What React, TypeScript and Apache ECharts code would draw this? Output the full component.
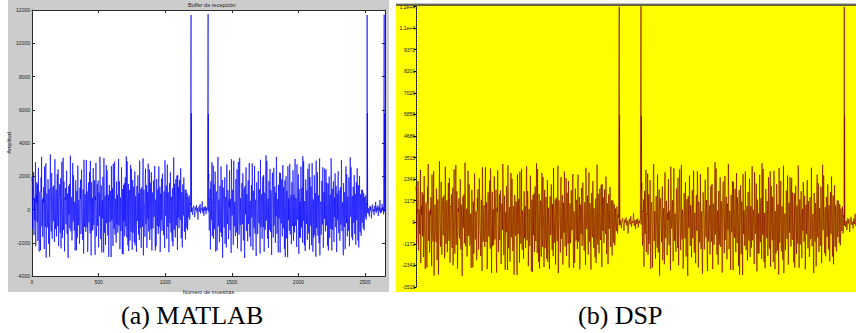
import React, { useEffect, useRef } from 'react';
import * as echarts from 'echarts';

// ---------- data (sample index / amplitude) ----------
// Each noise burst is given as two interleaved sample lists (A and B), 4 samples apart each.
const SAMPLE_STEP = 4;

const noise1AStart = 0;
const noise1A = [
  1720, -1180, 640, 2240, -1530, -420, 1390, -2210, 870, 1640, -760, -1890, 2510, 310, -1270, 1080, -2460, 1930, 3160, -980,
  -1640, 720, 1350, -2380, 590, -1040, 2780, -1470, 960, -530, 1820, -2060, 1240, -2840, 1570, 480, -1320, 2190, -1750, 830,
  -710, 1460, -1960, 3020, -1180, 690, -1620, 1150, -390, 2410, -2190, 880, 1520, -1390, 1880, -640, 2870, -1710, 470, -1230,
  1690, -2520, 740, 1290, -880, 2330, -1480, 260, -2910, 1410, 970, -1150, 3240, -1310, 610, -1860, 1530, -730, 2060, -1270,
  380, -2470, 1760, -560, 1120, -1690, 2640, -940, 540, -2060, 1310, 1790, -1480, 2380, -320, -1830, 1210, -2650, 1880, -690,
  920, -1340, 2980, -1070, 460, -1940, 1620, -780, 2260, -1430, 710, -2760, 1650, 350, -1220, 2490, -930, 1140, -1870, 790,
  2810, -1610, 520, -970, 1730, -2270, 1010, -410, 2090, -1780, 1440, -2580, 560, 1960, -1090, 3090, -1410, 640, -2140, 1360,
  -820, 2350, -1560, 890, -2850, 1480, -510, 1120, -1820, 2610, -640, 1270, -2190, 820, -1160, 2880, -1500, 470, -1990, 1680,
  630, -1390, 2210, -980, 1690, -2380, 710, -1290, 2530, -760, 1230, -2690, 1480, 400, -1610, 1940, -1020, 3200, -1680, 910,
  -2160, 1530, -590, 1170, -1870, 2680, -1330, 520, -2430, 1760, -850, 1370, -1980, 2290, -1180, 760, -2540, 1410, -450, 2010,
  -1500, 960, 2940, -1110, 560, -2300, 1330, -670, 1890, -2760, 1190, 320, -1640, 2450, -900, 1470, -2090, 840, 2760, -1320,
  690, -1830, 1610, -530, 2240, -2460, 1020, -1130, 1740, -440, 2380, -1700, 590, -2210, 1830, -990, 1220, -1460, 2590, -780,
  1370, -2040, 480, 1860, -1280, 2150, -610, -1540, 1090, -2320, 1960, -370, 1450, -1760, 2700, -1050, 650, -2570, 1590, -820,
  2230, -1390, 760, -1910, 1280, -480, 3130, -1210, 540, -1680, 1820, -960, 2040, -2430, 890, 1350, -1120, 1780, -640, 2480,
  -1730, 1040, -2280, 1510, -360, 1920, -1340, 690, -1800, 1180, -560, 980, -1250, 740, -420, 850, -610, 390,
];
const noise1BStart = 2;
const noise1B = [
  1980, -260, 580, -1410, 700, -640, 2850, -190, 420, -760, 1510, -790, 280, -2530, 940, 270, -350, 1050, -1010, 610,
  -970, 420, -520, 2590, -640, 830, -2900, 310, 390, -1080, 940, -570, 760, -1280, 3310, -870, 160, -780, 520, 1350,
  -240, 640, -1610, 620, -350, 1190, -520, 2130, -1010, 470, -600, 830, -720, 420, -2340, 780, 260, -510, 3110, -330,
  400, -1050, 580, -570, 1170, -860, 960, -2680, 420, -290, 1530, -290, 670, -910, 740, -820, 2800, -640, 520, -1230,
  470, -410, 930, -2450, 880, -90, 2620, -450, 590, -1790, 630, 310, -400, 1310, -760, 210, -1150, 2990, -1050, 700,
  -750, 290, -470, 1080, -2540, 1010, -220, 760, -660, 2920, -570, 450, -1300, 700, -900, 440, -340, 1760, -2730, 560,
  340, -680, 1510, -960, 380, -1010, 800, 3170, -460, 620, -830, 480, -540, 1230, -2590, 1070, -830, 820, -620, 2670,
  -130, 490, -1370, 750, -370, 1000, -740, 920, -2870, 360, 660, -270, 2750, -500, 430, -1080, 640, -740, 1360, -880,
  880, -380, 3040, -900, 570, -1260, 520, -620, 1110, -2670, 1090, 290, -700, 1580, -1080, 300, -990, 730, 2890, -420,
  510, -2500, 810, -450, 1150, -820, 2450, -240, 800, -1410, 960, -680, 380, -2150, 790, -1020, 600, -690, 2060, -540,
  980, -1840, 490, -330, 1240, -580, 850, -1030, 3070, -190, 470, -520, 1720, -810, 540, -2300, 1050, -560, 880, -320,
  2400, -960, 660, -1180, 570, -490, 980, -710, 900, -160, 2620, -2470, 240, -380, 690, -950, 720, 1180, -1060, 430,
  -2560, 950, -640, 1290, -420, 580, -880, 350, -910, 2960, -300, 410, -1060, 590, -730, 1040, -1390, 870, -500, 2120,
  -610, 760, -1290, 930, -2210, 1120, -430, 1540, -1060, 640, -850, 370, -790, 2060, -470, 920, -1120, 640, -580, 1280,
  -860, 450, -920, 1010, -330, 560, -580, 1190, -740, 1040, -1120, 870, -630, 720, -480, 560, -330, 270,
];

const quiet1Start = 1198;
const quiet1 = [
  -160, 110, -320, 70, 230, -80, -460, 140, -30, 260, -170, 80, -610, 50, 190, -120, 330, -240, 60, -40,
  490, -200, 120, -370, 150, -90, 210, -280, 100, -50, 240,
];

const noise2AStart = 1327;
const noise2A = [
  2150, -1260, 580, -2410, 1700, -640, 2850, -1190, 420, -1760, 1510, -790, 2280, -2530, 940, 270, -1350, 3050, -1010, 610,
  -1970, 1420, -520, 2590, -1640, 830, -2900, 1310, 390, -1080, 1940, -1570, 760, -2280, 2710, -870, 1160, -1780, 520, 2350,
  -1240, 640, -2610, 1620, -350, 1190, -2120, 2930, -1010, 470, -1600, 1830, -720, 2420, -2340, 780, 1260, -1510, 3110, -930,
  400, -2050, 1580, -570, 2170, -1860, 960, -2680, 1420, -290, 2530, -1290, 670, -1910, 1740, -820, 2800, -1640, 520, -2230,
  1470, -410, 1930, -2450, 880, -1090, 2620, -1450, 590, -2790, 1630, 310, -1400, 2310, -760, 1210, -2150, 2990, -1050, 700,
  -1750, 1290, -470, 2080, -2540, 1010, -1220, 1760, -660, 2920, -1570, 450, -2300, 1700, -900, 2440, -1340, 760, -2730, 1560,
  340, -1680, 2510, -960, 1380, -2010, 800, 3170, -1460, 620, -1830, 1480, -540, 2230, -2590, 1070, -830, 1820, -1620, 2670,
  -1130, 490, -2370, 1750, -370, 2000, -1740, 920, -2870, 1360, 660, -1270, 2750, -1500, 430, -2080, 1640, -740, 2360, -1880,
  880, -1380, 3040, -900, 570, -2260, 1520, -620, 2110, -2670, 1090, 290, -1700, 2580, -1080, 1300, -1990, 730, 2890, -1420,
  510, -2500, 1810, -450, 1150, -1820, 2450, -1240, 800, -2410, 1960, -680, 1380, -2150, 2790, -1020, 600, -1690, 2060, -1540,
  980, -2840, 1490, -330, 2240, -1580, 850, -2030, 3070, -1190, 470, -1520, 1720, -810, 2540, -2300, 1050, -560, 1880, -1320,
  2400, -960, 660, -2180, 1570, -490, 1980, -1710, 900, -1160, 2620, -2470, 1240, -380, 1690, -1950, 720, 2180, -1060, 1430,
  -2560, 950, -640, 2290, -1420, 580, -1880, 1350, -910, 2960, -1300, 410, -2060, 1590, -730, 1040, -2390, 1870, -500, 2120,
  -1610, 760, -1290, 1930, -2210, 1120, -430, 2540, -1060, 640, -1850, 1370, -790, 2060, -1470, 920, -2120, 1640, -580, 1280,
  -1860, 1450, -920, 2010, -1330, 560, -1580, 1190, -740, 1040, -1120, 870, -630, 720, -480, 560, -330, 270,
];
const noise2BStart = 1325;
const noise2B = [
  1720, -380, 640, 1240, -930, -220, 890, -1610, 470, 2640, -560, -1190, 310, 810, -270, 1080, -2460, 590, 3160, -480,
  -940, 320, 150, -1380, 590, -640, 1780, -470, 960, -230, 820, -2060, 240, -760, 1570, 480, -320, 690, -1150, 130,
  -710, 460, -960, 3020, -180, 690, -620, 1150, -390, 410, -1190, 880, 520, -1390, 280, -640, 2870, -710, 470, -230,
  690, -2520, 340, 1290, -880, 330, -480, 1260, -2910, 410, 970, -150, 920, -310, 610, -860, 1530, -730, 260, -1270,
  380, -470, 2760, -560, 1120, -690, 240, -940, 540, -1960, 310, 790, -1480, 380, -120, -830, 1210, -2650, 880, -290,
  920, -340, 1980, -1070, 460, -540, 620, -780, 3260, -430, 710, -1760, 650, 150, -1220, 490, -930, 1140, -370, 790,
  2210, -610, 520, -970, 730, -270, 1010, -410, 1690, -780, 440, -2580, 560, 960, -90, 2190, -410, 640, -1140, 360,
  -820, 1350, -560, 890, -2850, 480, -210, 1120, -820, 2610, -640, 270, -1190, 820, -360, 880, -1500, 470, -990, 1680,
  230, -390, 1210, -980, 690, -380, 2710, -290, 530, -760, 1230, -1690, 480, 400, -610, 940, -1020, 3200, -680, 210,
  -2160, 530, -590, 1170, -870, 680, -330, 520, -1430, 2760, -850, 370, -980, 290, -180, 760, -2540, 410, -450, 1010,
  -500, 960, 2940, -1110, 560, -1300, 330, -670, 890, -2760, 190, 320, -640, 1450, -900, 470, -1090, 840, 2460, -320,
  690, -830, 1610, -530, 240, -2460, 1020, -130, 740, -440, 3080, -700, 590, -1210, 830, -990, 220, -460, 1590, -780,
  370, -1040, 480, 1860, -280, 1150, -610, -1540, 90, -320, 960, -370, 450, -2760, 700, -1050, 650, -570, 2590, -820,
  1230, -390, 760, -910, 280, -480, 3130, -210, 540, -1680, 820, -960, 1040, -430, 890, 350, -1120, 780, -640, 2480,
  -730, 1040, -2280, 510, -360, 920, -1340, 690, -800, 1180, -560, 980, -1250, 740, -420, 850, -610, 390,
];

const quiet2Start = 2520;
const quiet2 = [
  130, -250, 80, -420, 220, -60, 170, -530, 70, 300, -140, 30, -340, 210, -100, 460, -210, 120, -70, 250,
  -390, 160, -110, 570, -230, 90, -180, 340, -60, 140, -290,
];

const tailStart = 2649;
const tail = [180];

const spikeSamples = [1194, 1322, 2516, 2644];
const spikePeaks = [11700, 11750, 11700, 11720];
const spikeDips = [-150, -120, -180, -140];
const spikeShoulders = [5800, 5750, 5800, 5780];

// ---------- axes ----------
const matlabXTicks = [0, 500, 1000, 1500, 2000, 2500];
const matlabXMax = 2650;
const matlabYTicks = [-4000, -2000, 0, 2000, 4000, 6000, 8000, 10000, 12000];
const dspXMax = 2585;
const dspYTickLabels = ['-3515', '-2343', '-1172', '0', '1172', '2343', '3515', '4686', '5858', '7029', '8201', '9372', '1.1e+4', '1.2e+4'];
const dspYStep = 1171.5;
const dspYMin = -3 * dspYStep;

const captions = ['(a) MATLAB', '(b) DSP'];

function buildSignal(): [number, number][] {
  const pts: [number, number][] = [];
  const addSeg = (start: number, vals: number[]) => vals.forEach((v, i) => pts.push([start + i * SAMPLE_STEP, v]));
  const addSpike = (k: number) => {
    const s = spikeSamples[k];
    pts.push([s, spikePeaks[k]], [s + 1, spikeDips[k]], [s + 2, spikeShoulders[k]]);
  };
  addSeg(noise1AStart, noise1A);
  addSeg(noise1BStart, noise1B);
  addSpike(0);
  addSeg(quiet1Start, quiet1);
  addSpike(1);
  addSeg(noise2AStart, noise2A);
  addSeg(noise2BStart, noise2B);
  addSpike(2);
  addSeg(quiet2Start, quiet2);
  addSpike(3);
  addSeg(tailStart, tail);
  pts.sort((a, b) => a[0] - b[0]);
  return pts;
}

const SANS = 'Liberation Sans';
const SERIF = "'Liberation Serif', 'DejaVu Serif', 'Times New Roman', serif";

export default function App() {
  const ref = useRef<HTMLDivElement>(null);
  useEffect(() => {
    if (!ref.current) return;
    const chart = echarts.init(ref.current, undefined, { renderer: 'svg' });
    const signal = buildSignal();
    const axColor = '#2b2b2b';
    const plain = (v: number) => String(v);
    const matlabAxisCommon = {
      axisLine: { onZero: false, lineStyle: { color: axColor, width: 1 } },
      axisTick: { inside: true, length: 3, lineStyle: { color: axColor, width: 1 } },
      splitLine: { show: false },
    };
    const captionStyle = { fontFamily: SERIF, fontSize: 26, fontWeight: 'normal', color: '#000' };
    const option: any = {
      animation: false,
      title: [
        { text: captions[0], left: 121, top: 302, padding: 0, textStyle: captionStyle },
        { text: captions[1], left: 578, top: 302, padding: 0, textStyle: captionStyle },
        {
          text: 'Buffer de recepción', left: 188, top: 2, padding: 0,
          textStyle: { fontFamily: SANS, fontSize: 5.5, fontWeight: 'normal', color: '#222' },
        },
      ],
      grid: [
        { left: 32, top: 10, width: 353, height: 266, show: true, backgroundColor: '#ffffff', borderWidth: 0 },
        { left: 416, top: 6.5, width: 440, height: 280.5, show: false },
      ],
      xAxis: [
        {
          gridIndex: 0, type: 'value', position: 'bottom',
          min: matlabXTicks[0], max: matlabXMax, interval: matlabXTicks[1] - matlabXTicks[0],
          ...matlabAxisCommon,
          axisLabel: { fontSize: 5, fontFamily: SANS, color: '#222', margin: 3, showMaxLabel: false, formatter: plain },
          name: 'Número de muestras', nameLocation: 'middle', nameGap: 8,
          nameTextStyle: { fontSize: 5.5, fontFamily: SANS, color: '#222' },
        },
        {
          gridIndex: 0, type: 'value', position: 'top',
          min: matlabXTicks[0], max: matlabXMax, interval: matlabXTicks[1] - matlabXTicks[0],
          ...matlabAxisCommon,
          axisLabel: { show: false },
        },
        { gridIndex: 1, type: 'value', min: 0, max: dspXMax, show: false },
      ],
      yAxis: [
        {
          gridIndex: 0, type: 'value', position: 'left',
          min: matlabYTicks[0], max: matlabYTicks[matlabYTicks.length - 1], interval: matlabYTicks[1] - matlabYTicks[0],
          ...matlabAxisCommon,
          axisLabel: { fontSize: 5, fontFamily: SANS, color: '#222', margin: 2, formatter: plain },
          name: 'Amplitud', nameLocation: 'middle', nameGap: 17,
          nameTextStyle: { fontSize: 5.5, fontFamily: SANS, color: '#222' },
        },
        {
          gridIndex: 0, type: 'value', position: 'right',
          min: matlabYTicks[0], max: matlabYTicks[matlabYTicks.length - 1], interval: matlabYTicks[1] - matlabYTicks[0],
          ...matlabAxisCommon,
          axisLabel: { show: false },
        },
        {
          gridIndex: 1, type: 'value', position: 'left',
          min: dspYMin, max: dspYMin + (dspYTickLabels.length - 1) * dspYStep, interval: dspYStep,
          axisLine: { show: true, onZero: false, lineStyle: { color: '#000', width: 1, type: [1, 1] } },
          axisTick: { show: true, inside: false, length: 2.5, lineStyle: { color: '#000', width: 1 } },
          axisLabel: {
            fontSize: 5, fontFamily: SANS, color: '#111', margin: 1,
            formatter: (v: number) => dspYTickLabels[Math.round((v - dspYMin) / dspYStep)] ?? '',
          },
          splitLine: { show: false },
        },
      ],
      series: [
        {
          type: 'line', xAxisIndex: 0, yAxisIndex: 0, data: signal,
          showSymbol: false, symbol: 'none', clip: true,
          lineStyle: { color: '#0000ff', width: 0.65 }, z: 3,
        },
        {
          type: 'line', xAxisIndex: 2, yAxisIndex: 2, data: signal,
          showSymbol: false, symbol: 'none', clip: true,
          lineStyle: { color: '#800000', width: 0.65 }, z: 3,
        },
      ],
      graphic: [
        { type: 'rect', z: -10, silent: true, shape: { x: 8, y: 0, width: 381, height: 292 }, style: { fill: '#cccccc' } },
        { type: 'rect', z: -10, silent: true, shape: { x: 396, y: 5, width: 460, height: 287 }, style: { fill: '#ffff00' } },
        { type: 'line', z: 5, silent: true, shape: { x1: 396, y1: 3.5, x2: 856, y2: 3.5 }, style: { stroke: '#c0c0c0', lineWidth: 1 } },
        { type: 'line', z: 5, silent: true, shape: { x1: 396, y1: 5, x2: 856, y2: 5 }, style: { stroke: '#333333', lineWidth: 1.5 } },
      ],
    };
    chart.setOption(option);
    return () => chart.dispose();
  }, []);
  return (
    <div
      ref={ref}
      style={{ position: 'fixed', left: 0, top: 0, width: 856, height: 333, background: '#ffffff' }}
    />
  );
}
